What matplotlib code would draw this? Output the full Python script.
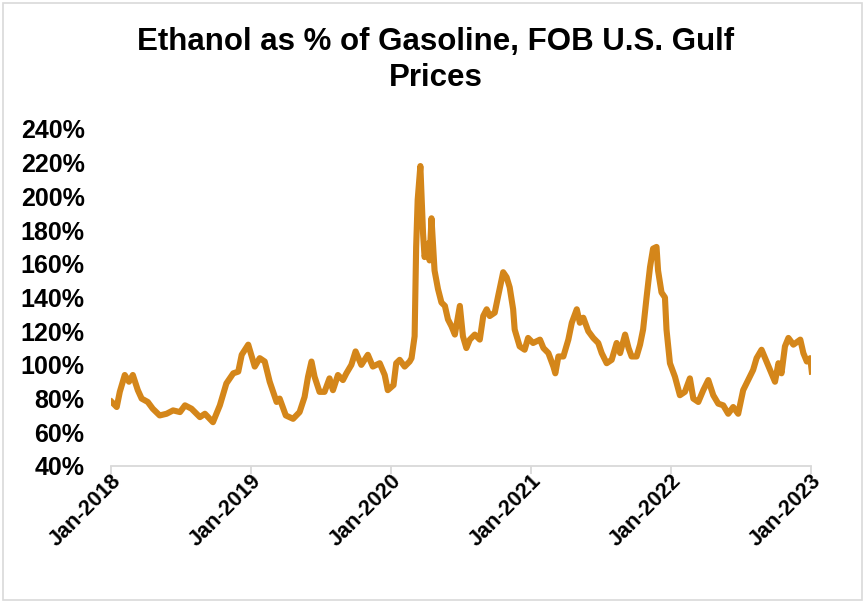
import matplotlib
matplotlib.use("Agg")
import matplotlib.pyplot as plt
import matplotlib.dates as mdates
import numpy as np
import pandas as pd

plt.rcParams['font.family'] = ['Liberation Sans', 'DejaVu Sans']

# ethanol price as % of gasoline price
dates = [
    "2018-01-03", "2018-01-16", "2018-01-24", "2018-02-06", "2018-02-17", "2018-02-27",
    "2018-03-12", "2018-03-22", "2018-04-07", "2018-04-20", "2018-05-08", "2018-05-26",
    "2018-06-12", "2018-06-30", "2018-07-13", "2018-07-30", "2018-08-21", "2018-09-03",
    "2018-09-24", "2018-10-12", "2018-10-29", "2018-11-16", "2018-11-29", "2018-12-08",
    "2018-12-25", "2019-01-11", "2019-01-24", "2019-02-06", "2019-02-19", "2019-03-09",
    "2019-03-17", "2019-04-02", "2019-04-21", "2019-05-08", "2019-05-21", "2019-05-30",
    "2019-06-08", "2019-06-16", "2019-06-29", "2019-07-12", "2019-07-25", "2019-08-03",
    "2019-08-16", "2019-08-29", "2019-09-07", "2019-09-20", "2019-10-01", "2019-10-16",
    "2019-11-02", "2019-11-15", "2019-12-03", "2019-12-16", "2019-12-24", "2020-01-08",
    "2020-01-15", "2020-01-24", "2020-02-06", "2020-02-19", "2020-02-24", "2020-03-03",
    "2020-03-07", "2020-03-11", "2020-03-18", "2020-03-25", "2020-03-29", "2020-04-07",
    "2020-04-11", "2020-04-16", "2020-04-20", "2020-04-24", "2020-05-03", "2020-05-12",
    "2020-05-21", "2020-05-29", "2020-06-07", "2020-06-16", "2020-06-29", "2020-07-07",
    "2020-07-16", "2020-07-25", "2020-08-07", "2020-08-20", "2020-08-29", "2020-09-07",
    "2020-09-15", "2020-09-28", "2020-10-07", "2020-10-20", "2020-10-29", "2020-11-06",
    "2020-11-15", "2020-11-19", "2020-12-02", "2020-12-15", "2020-12-24", "2021-01-06",
    "2021-01-24", "2021-02-02", "2021-02-15", "2021-02-28", "2021-03-05", "2021-03-13",
    "2021-03-26", "2021-04-08", "2021-04-17", "2021-04-30", "2021-05-08", "2021-05-17",
    "2021-05-30", "2021-06-12", "2021-06-25", "2021-07-04", "2021-07-17", "2021-07-30",
    "2021-08-12", "2021-08-21", "2021-09-03", "2021-09-12", "2021-09-20", "2021-10-03",
    "2021-10-12", "2021-10-20", "2021-10-29", "2021-11-07", "2021-11-15", "2021-11-24",
    "2021-11-28", "2021-12-07", "2021-12-16", "2021-12-20", "2021-12-29", "2022-01-11",
    "2022-01-24", "2022-02-06", "2022-02-19", "2022-02-28", "2022-03-13", "2022-03-26",
    "2022-04-08", "2022-04-21", "2022-05-04", "2022-05-17", "2022-05-30", "2022-06-12",
    "2022-06-25", "2022-07-08", "2022-07-21", "2022-08-03", "2022-08-12", "2022-08-25",
    "2022-09-07", "2022-09-20", "2022-09-29", "2022-10-08", "2022-10-16", "2022-10-25",
    "2022-11-03", "2022-11-16", "2022-12-04", "2022-12-12", "2022-12-21", "2022-12-30",
    "2023-01-03",
]
ratio_pct = [
    78, 75, 84, 94, 90, 94,
    85, 80, 78, 74, 70, 71,
    73, 72, 76, 74, 69, 71,
    66, 76, 89, 95, 96, 106,
    112, 99, 104, 102, 90, 78,
    80, 70, 68, 72, 81, 93,
    102, 93, 84, 84, 92, 85,
    94, 91, 95, 100, 108, 100,
    106, 99, 101, 94, 85, 88,
    101, 103, 99, 102, 104, 117,
    170, 198, 218, 178, 164, 172,
    162, 187, 172, 156, 145, 137,
    135, 127, 123, 118, 135, 117,
    110, 115, 118, 115, 129, 133,
    129, 131, 141, 155, 152, 146,
    133, 121, 111, 109, 116, 113,
    115, 110, 107, 99, 95, 105,
    105, 115, 125, 133, 125, 128,
    120, 116, 113, 107, 101, 103,
    113, 107, 118, 110, 105, 105,
    112, 121, 140, 158, 169, 170,
    156, 143, 140, 121, 101, 93,
    82, 84, 92, 80, 78, 85,
    91, 82, 77, 76, 71, 75,
    71, 85, 91, 97, 104, 109,
    102, 95, 90, 101, 95, 111,
    116, 112, 115, 107, 102, 104,
    96,
]
y_ticks = [40, 60, 80, 100, 120, 140, 160, 180, 200, 220, 240]
x_ticks = ["2018-01-01", "2019-01-01", "2020-01-01", "2021-01-01", "2022-01-01", "2023-01-01"]

x = pd.to_datetime(dates)
xt = pd.to_datetime(x_ticks)

fig = plt.figure(figsize=(8.65, 6.03), dpi=100)
ax = fig.add_axes([0.1283, 0.2272, 0.8093, 0.5589])

ax.plot(x, ratio_pct, color="#D4861A", lw=4.4, solid_joinstyle="round")

ax.set_xlim(xt[0], xt[-1])
ax.set_ylim(40, 240)
ax.set_yticks(y_ticks)
ax.set_yticklabels([f"{v}%" for v in y_ticks], fontsize=18, fontweight="bold")
ax.set_xticks(xt)
ax.set_xticklabels([d.strftime("%b-%Y") for d in xt], fontsize=15.5, fontweight="bold",
                   rotation=45, ha="right", va="top", rotation_mode="anchor")

for s in ["top", "right", "left"]:
    ax.spines[s].set_visible(False)
ax.spines["bottom"].set_color("#d9d9d9")
ax.spines["bottom"].set_linewidth(1.3)
ax.tick_params(axis="y", length=0, pad=19)
ax.tick_params(axis="x", length=6, color="#d9d9d9", width=1.3, pad=-3)

fig.text(0.504, 0.9005, "Ethanol as % of Gasoline, FOB U.S. Gulf\nPrices", ha="center", va="center",
         fontsize=22.5, fontweight="bold", linespacing=1.22)

# light border around the chart area
fig.patches.append(plt.Rectangle((0.004, 0.005), 0.992, 0.99, transform=fig.transFigure,
                                 fill=False, edgecolor="#d9d9d9", lw=1.2))

fig.savefig("out.png", dpi=100)
